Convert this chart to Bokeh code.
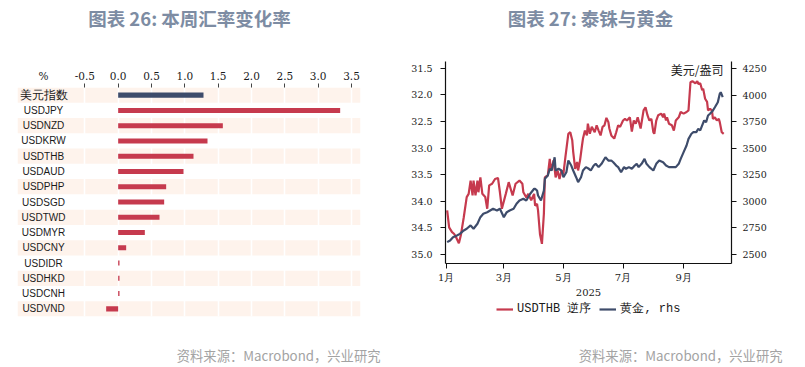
import pandas as pd
from bokeh.plotting import figure
from bokeh.models import (Range1d, LinearAxis, FixedTicker, NumeralTickFormatter,
                          Label, Legend, LegendItem, ColumnDataSource)
from bokeh.layouts import row, column
from bokeh.embed import file_html
from bokeh.resources import INLINE
from bokeh.core.properties import value

# ---------------- data: chart 26 ----------------
fx_names = ["美元指数", "USDJPY", "USDNZD", "USDKRW", "USDTHB", "USDAUD", "USDPHP",
            "USDSGD", "USDTWD", "USDMYR", "USDCNY", "USDIDR", "USDHKD", "USDCNH", "USDVND"]
fx_changes = [1.28, 3.33, 1.57, 1.34, 1.13, 0.98, 0.72, 0.69, 0.62, 0.40, 0.12, 0.02, 0.02, 0.02, -0.18]
fx_ticks = [-0.5, 0.0, 0.5, 1.0, 1.5, 2.0, 2.5, 3.0, 3.5]
fx_unit = "%"

# ---------------- data: chart 27 ----------------
thb_dates = ["2025-01-02", "2025-01-04", "2025-01-07", "2025-01-09", "2025-01-11", "2025-01-14",
             "2025-01-16", "2025-01-19", "2025-01-22", "2025-01-24", "2025-01-26", "2025-01-28",
             "2025-01-29", "2025-01-31", "2025-02-02", "2025-02-03", "2025-02-05", "2025-02-07",
             "2025-02-10", "2025-02-12", "2025-02-14", "2025-02-17", "2025-02-20", "2025-02-23",
             "2025-02-25", "2025-02-27", "2025-03-03", "2025-03-06", "2025-03-09", "2025-03-10",
             "2025-03-13", "2025-03-17", "2025-03-20", "2025-03-21", "2025-03-24", "2025-03-26",
             "2025-03-29", "2025-04-01", "2025-04-02", "2025-04-04", "2025-04-05", "2025-04-07",
             "2025-04-09", "2025-04-11", "2025-04-12", "2025-04-15", "2025-04-17", "2025-04-18",
             "2025-04-21", "2025-04-23", "2025-04-25", "2025-04-27", "2025-04-29", "2025-05-01",
             "2025-05-03", "2025-05-06", "2025-05-08", "2025-05-10", "2025-05-11", "2025-05-13",
             "2025-05-15", "2025-05-16", "2025-05-18", "2025-05-20", "2025-05-21", "2025-05-23",
             "2025-05-25", "2025-05-26", "2025-05-28", "2025-05-30", "2025-06-02", "2025-06-04",
             "2025-06-06", "2025-06-08", "2025-06-10", "2025-06-12", "2025-06-14", "2025-06-16",
             "2025-06-17", "2025-06-19", "2025-06-22", "2025-06-24", "2025-06-26", "2025-06-28",
             "2025-07-01", "2025-07-03", "2025-07-05", "2025-07-08", "2025-07-10", "2025-07-12",
             "2025-07-14", "2025-07-16", "2025-07-19", "2025-07-22", "2025-07-24", "2025-07-26",
             "2025-07-28", "2025-07-30", "2025-08-01", "2025-08-02", "2025-08-04", "2025-08-06",
             "2025-08-09", "2025-08-11", "2025-08-12", "2025-08-14", "2025-08-15", "2025-08-17",
             "2025-08-20", "2025-08-22", "2025-08-24", "2025-08-27", "2025-08-29", "2025-09-01",
             "2025-09-04", "2025-09-06", "2025-09-08", "2025-09-10", "2025-09-13", "2025-09-15",
             "2025-09-16", "2025-09-18", "2025-09-20", "2025-09-21", "2025-09-23", "2025-09-25",
             "2025-09-26", "2025-09-28", "2025-09-30", "2025-10-01", "2025-10-03", "2025-10-05",
             "2025-10-07", "2025-10-08", "2025-10-10", "2025-10-12"]
thb_values = [34.17, 34.49, 34.58, 34.61, 34.67, 34.79,
              34.64, 34.30, 33.92, 33.86, 33.61, 33.89,
              33.61, 33.89, 33.61, 33.83, 33.55, 33.86,
              33.92, 34.14, 33.70, 33.67, 33.58, 33.56,
              33.83, 34.14, 33.86, 33.64, 33.83, 33.89,
              33.67, 33.61, 33.67, 33.83, 33.93, 33.86,
              33.98, 33.86, 34.08, 34.05, 34.17, 34.62,
              34.80, 34.23, 33.55, 33.51, 33.20, 33.42,
              33.23, 33.55, 33.42, 33.58, 33.42, 33.48,
              33.17, 32.73, 32.70, 32.85, 33.07, 33.39,
              33.26, 33.42, 33.23, 32.95, 32.82, 32.67,
              32.76, 32.54, 32.73, 32.60, 32.70, 32.57,
              32.67, 32.76, 32.60, 32.57, 32.43, 32.51,
              32.63, 32.76, 32.82, 32.70, 32.57, 32.60,
              32.48, 32.45, 32.48, 32.42, 32.69, 32.48,
              32.54, 32.42, 32.63, 32.29, 32.23, 32.38,
              32.48, 32.45, 32.70, 32.73, 32.48, 32.38,
              32.35, 32.42, 32.35, 32.48, 32.42, 32.54,
              32.57, 32.67, 32.48, 32.42, 32.32, 32.35,
              32.32, 32.29, 31.76, 31.74, 31.78, 31.74,
              31.79, 31.78, 31.91, 31.88, 32.07, 32.13,
              32.29, 32.26, 32.29, 32.45, 32.42, 32.48,
              32.45, 32.51, 32.70, 32.73]

gold_dates = ["2025-01-02", "2025-01-05", "2025-01-08", "2025-01-12", "2025-01-15", "2025-01-19",
              "2025-01-22", "2025-01-26", "2025-01-29", "2025-02-02", "2025-02-05", "2025-02-08",
              "2025-02-12", "2025-02-15", "2025-02-18", "2025-02-22", "2025-02-25", "2025-03-01",
              "2025-03-04", "2025-03-07", "2025-03-11", "2025-03-14", "2025-03-17", "2025-03-21",
              "2025-03-24", "2025-03-28", "2025-04-01", "2025-04-02", "2025-04-04", "2025-04-05",
              "2025-04-08", "2025-04-11", "2025-04-12", "2025-04-15", "2025-04-17", "2025-04-19",
              "2025-04-22", "2025-04-23", "2025-04-26", "2025-04-29", "2025-05-01", "2025-05-04",
              "2025-05-06", "2025-05-09", "2025-05-11", "2025-05-14", "2025-05-16", "2025-05-19",
              "2025-05-21", "2025-05-24", "2025-05-27", "2025-05-29", "2025-06-01", "2025-06-03",
              "2025-06-06", "2025-06-09", "2025-06-11", "2025-06-13", "2025-06-16", "2025-06-19",
              "2025-06-21", "2025-06-24", "2025-06-26", "2025-06-29", "2025-07-02", "2025-07-04",
              "2025-07-07", "2025-07-10", "2025-07-13", "2025-07-15", "2025-07-17", "2025-07-20",
              "2025-07-23", "2025-07-25", "2025-07-28", "2025-08-01", "2025-08-04", "2025-08-07",
              "2025-08-11", "2025-08-14", "2025-08-17", "2025-08-21", "2025-08-24", "2025-08-27",
              "2025-08-29", "2025-09-01", "2025-09-04", "2025-09-06", "2025-09-09", "2025-09-11",
              "2025-09-14", "2025-09-16", "2025-09-18", "2025-09-20", "2025-09-22", "2025-09-24",
              "2025-09-26", "2025-09-28", "2025-10-01", "2025-10-03", "2025-10-06", "2025-10-08",
              "2025-10-09", "2025-10-11"]
gold_values = [2616, 2632, 2663, 2679, 2694, 2726,
               2742, 2773, 2742, 2789, 2851, 2883,
               2898, 2914, 2930, 2914, 2930, 2851,
               2898, 2914, 2930, 2977, 3008, 3024,
               3008, 3071, 3118, 3118, 3102, 3055,
               3008, 3102, 3212, 3243, 3306, 3290,
               3415, 3290, 3306, 3290, 3227, 3274,
               3384, 3337, 3290, 3227, 3180, 3227,
               3290, 3322, 3306, 3290, 3337, 3353,
               3322, 3353, 3384, 3415, 3384, 3384,
               3368, 3337, 3322, 3274, 3322, 3306,
               3322, 3306, 3337, 3353, 3322, 3353,
               3400, 3353, 3322, 3290, 3353, 3384,
               3368, 3337, 3322, 3322, 3322, 3353,
               3400, 3463, 3525, 3588, 3636, 3651,
               3651, 3683, 3667, 3714, 3761, 3745,
               3808, 3824, 3855, 3886, 3933, 4012,
               4027, 3980]

thb_ticks = [31.5, 32.0, 32.5, 33.0, 33.5, 34.0, 34.5, 35.0]
gold_ticks = [2500, 2750, 3000, 3250, 3500, 3750, 4000, 4250]
month_ticks = ["2025-01-01", "2025-03-01", "2025-05-01", "2025-07-01", "2025-09-01"]
month_labels = ["1月", "3月", "5月", "7月", "9月"]
year_label = "2025"
thb_name = "USDTHB 逆序"
gold_name = "黄金, rhs"
gold_unit = "美元/盎司"
titles = ["图表 26: 本周汇率变化率", "图表 27: 泰铢与黄金"]
source_text = "资料来源：Macrobond，兴业研究"

# ---------------- styles ----------------
RED = "#C63A4E"
NAVY = "#3E4C6B"
BAND = "#FEF3EC"
TITLE_C = "#7D8CA3"
SRC_C = "#A3A3A3"
TXT = "#1A1A1A"
CJK = "Noto Sans CJK SC"
SERIF = "DejaVu Serif"
W, H_TITLE, H_CHART, H_SRC = 805, 38, 302, 27
W_LEFT = 402
W_RIGHT = W - W_LEFT
H_LEG = 40


def ms(ts):
    return pd.Timestamp(ts).timestamp() * 1000.0


def blank_strip(width, height):
    f = figure(width=width, height=height, output_backend="svg", toolbar_location=None,
               x_range=Range1d(0, width), y_range=Range1d(height, 0),
               x_axis_location=None, y_axis_location=None, min_border=0)
    f.outline_line_color = None
    f.xgrid.visible = False
    f.ygrid.visible = False
    return f


def text_strip(height, items):
    """A frame-only strip used to hold free text (titles / sources)."""
    f = blank_strip(W, height)
    for (x, y, txt, align, size, style, color) in items:
        f.text(x=[x], y=[y], text=[txt], text_align=align, text_baseline="middle",
               text_font=value(CJK), text_font_size=size, text_font_style=style,
               text_color=color)
    return f


# ================= chart 26 =================
n = len(fx_names)
rows_idx = list(range(n))
x_lo, x_hi = -1.51, 3.635
label_x = -1.12

p1 = figure(width=W_LEFT, height=H_CHART, output_backend="svg", toolbar_location=None,
            x_range=Range1d(x_lo, x_hi), y_range=Range1d(n - 0.5, -0.5),
            x_axis_location="above", y_axis_location=None,
            min_border_left=17, min_border_right=42, min_border_top=49, min_border_bottom=24)
p1.outline_line_color = None

band_rows = [i for i in rows_idx if i % 2 == 0]
bands = p1.hbar(y=band_rows, left=x_lo, right=x_hi, height=1.0, fill_color=BAND, line_color=None)
bands.level = "image"

p1.xgrid.ticker = FixedTicker(ticks=fx_ticks)
p1.xgrid.grid_line_color = "white"
p1.xgrid.grid_line_width = 1.6
p1.ygrid.visible = False

bar_colors = [NAVY] + [RED] * (n - 1)
name_sizes = ["12px"] + ["10px"] * (n - 1)
src1 = ColumnDataSource(dict(y=rows_idx, right=fx_changes, color=bar_colors,
                             name=fx_names, size=name_sizes))
p1.hbar(y="y", left=0, right="right", height=0.33, fill_color="color", line_color=None, source=src1)
p1.text(x=label_x, y="y", text="name", source=src1, text_align="center", text_baseline="middle",
        text_font=value("Liberation Sans"), text_font_size="size", text_color=TXT)

# top axis: labels on the "major" ticks (values + unit), marks on the "minor" ticks
ax = p1.xaxis[0]
ax.ticker = FixedTicker(ticks=[label_x] + fx_ticks, minor_ticks=fx_ticks)
ax.formatter = NumeralTickFormatter(format="0.0")
ax.major_label_overrides = {label_x: fx_unit}
ax.axis_line_color = None
ax.major_tick_line_color = None
ax.major_tick_out = 4
ax.major_tick_in = 0
ax.minor_tick_line_color = "#444444"
ax.minor_tick_out = 4
ax.minor_tick_in = 0
ax.major_label_standoff = 2
ax.major_label_text_font = SERIF
ax.major_label_text_font_size = "10.5px"
ax.major_label_text_color = TXT

# ================= chart 27 =================
base = pd.Timestamp("2025-01-01")
x_start = base + pd.Timedelta(days=-0.7)
x_end = base + pd.Timedelta(days=292.0)

p2 = figure(width=W_RIGHT, height=H_CHART - H_LEG, output_backend="svg", toolbar_location=None,
            x_axis_type="datetime", x_range=Range1d(x_start, x_end),
            y_range=Range1d(35.17, 31.37),
            min_border_left=43, min_border_right=74, min_border_top=23, min_border_bottom=37)
p2.extra_y_ranges = {"gold": Range1d(2415, 4316)}
p2.outline_line_color = None
p2.xgrid.visible = False
p2.ygrid.visible = False

thb_x = pd.to_datetime(thb_dates)
gold_x = pd.to_datetime(gold_dates)
p2.line(x=thb_x, y=thb_values, line_color=RED, line_width=2.2)
p2.line(x=gold_x, y=gold_values, line_color=NAVY, line_width=2.2, y_range_name="gold")

right_axis = LinearAxis(y_range_name="gold")
p2.add_layout(right_axis, "right")

tick_ms = [ms(t) for t in month_ticks]
xa = p2.xaxis[0]
xa.ticker = FixedTicker(ticks=tick_ms)
xa.major_label_overrides = {t: lab for t, lab in zip(tick_ms, month_labels)}
xa.axis_label = year_label
xa.axis_label_text_font = SERIF
xa.axis_label_text_font_style = "normal"
xa.axis_label_text_font_size = "10px"
xa.axis_label_text_color = TXT
xa.axis_label_standoff = 3

ya = p2.yaxis[0]
ya.ticker = FixedTicker(ticks=thb_ticks)
ya.formatter = NumeralTickFormatter(format="0.0")
right_axis.ticker = FixedTicker(ticks=gold_ticks)
right_axis.formatter = NumeralTickFormatter(format="0")

for a in (xa, ya, right_axis):
    a.axis_line_color = "#111111"
    a.axis_line_width = 1.2
    a.major_tick_line_color = "#111111"
    a.major_tick_out = 5
    a.major_tick_in = 0
    a.minor_tick_line_color = None
    a.major_label_text_font = SERIF
    a.major_label_text_font_size = "9.5px"
    a.major_label_text_color = TXT
ya.major_label_standoff = 8
right_axis.major_label_standoff = 6
xa.major_label_standoff = 3
xa.major_label_text_font_size = "10px"

p2.add_layout(Label(x=ms(base + pd.Timedelta(days=283.8)), y=4240, y_range_name="gold",
                    text=gold_unit, text_align="right", text_baseline="middle",
                    text_font=CJK, text_font_size="12px", text_color=TXT))

# legend strip under chart 27: the same series, outside this strip's view, give the samples
leg_fig = blank_strip(W_RIGHT, H_LEG)
k_thb = leg_fig.line(x=thb_x, y=thb_values, line_color=RED, line_width=2.2)
k_gold = leg_fig.line(x=gold_x, y=gold_values, line_color=NAVY, line_width=2.2)
legend = Legend(items=[LegendItem(label=thb_name, renderers=[k_thb]),
                       LegendItem(label=gold_name, renderers=[k_gold])],
                orientation="horizontal", location=(94, 23))
legend.glyph_width = 17
legend.glyph_height = 12
legend.label_height = 12
legend.label_standoff = 4
legend.spacing = 8
legend.padding = 0
legend.margin = 0
legend.border_line_color = None
legend.background_fill_alpha = 0
legend.label_text_font = "Liberation Mono"
legend.label_text_font_size = "12px"
legend.label_text_color = TXT
leg_fig.add_layout(legend)

# ================= titles / sources =================
title_fig = text_strip(H_TITLE, [
    (189, 17, titles[0], "center", "18.5px", "bold", TITLE_C),
    (590, 17, titles[1], "center", "18.5px", "bold", TITLE_C),
])
source_fig = text_strip(H_SRC, [
    (380, 15, source_text, "right", "13.3px", "normal", SRC_C),
    (782, 15, source_text, "right", "13.3px", "normal", SRC_C),
])

layout = column(row(title_fig),
                row(column(p1), column(row(p2), row(leg_fig))),
                row(source_fig))
open("out.html", "w").write(file_html(layout, INLINE))
